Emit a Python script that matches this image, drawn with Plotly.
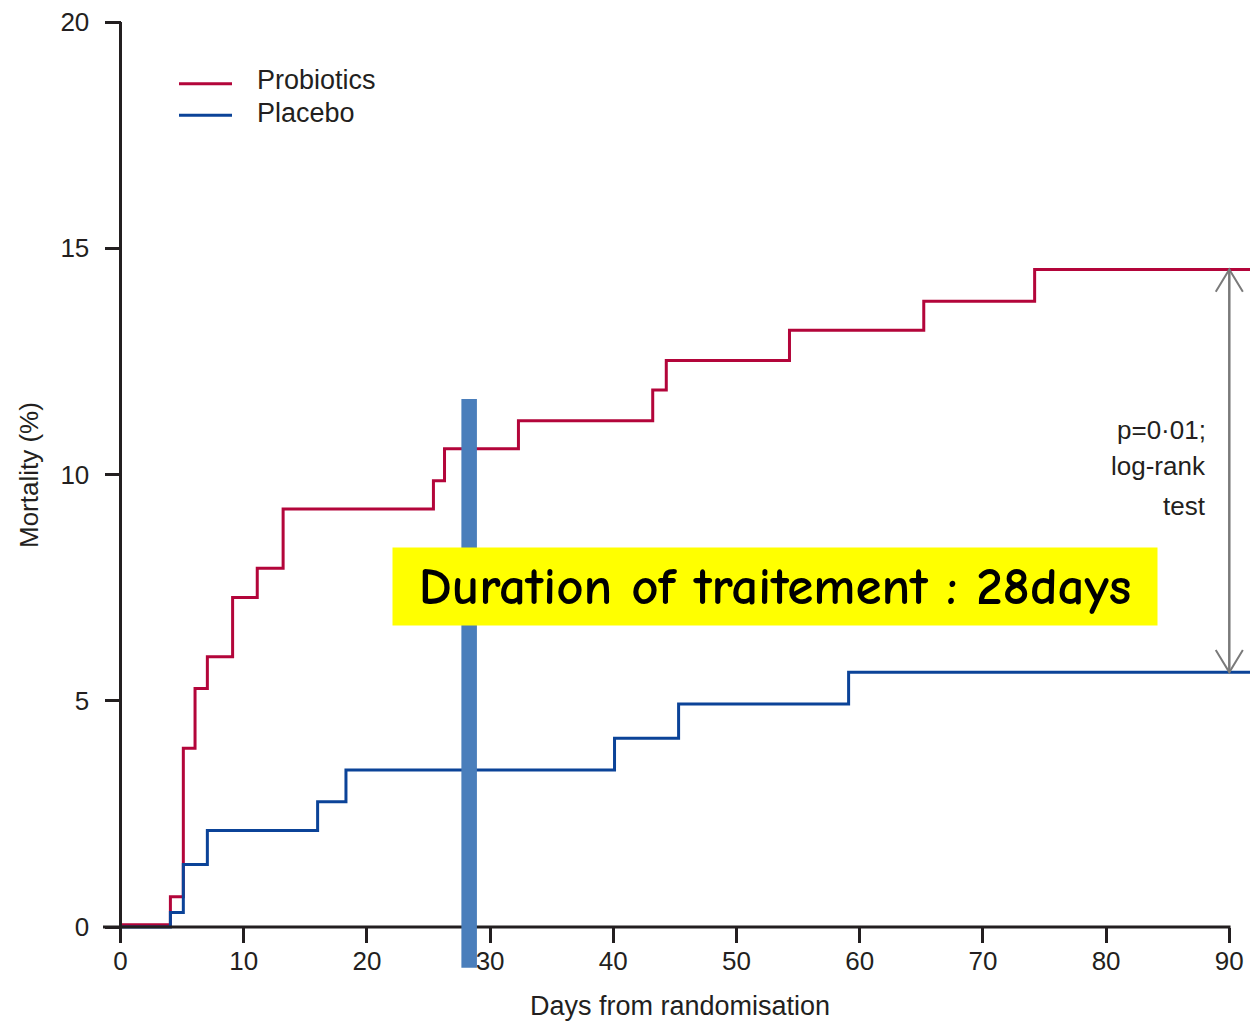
import plotly.graph_objects as go

# ---------------- data ----------------
prob_days = [0, 4.05, 5.1, 6.05, 7.05, 9.1, 11.1, 13.2, 25.4, 26.3, 32.3, 43.2, 44.3, 54.3, 65.2, 74.2, 92]
prob_mort = [0.05, 0.67, 3.95, 5.27, 5.97, 7.28, 7.93, 9.24, 9.86, 10.57, 11.19, 11.87, 12.52, 13.19, 13.83, 14.53, 14.53]

plac_days = [0, 4.05, 5.1, 7.05, 16.0, 18.3, 40.1, 45.3, 59.1, 92]
plac_mort = [0, 0.32, 1.38, 2.13, 2.77, 3.47, 4.17, 4.93, 5.63, 5.63]

x_ticks = [0, 10, 20, 30, 40, 50, 60, 70, 80, 90]
y_ticks = [0, 5, 10, 15, 20]

series_names = ["Probiotics", "Placebo"]
series_colors = ["#b3053a", "#0b4398"]

treatment_label = "Duration of traitement : 28days"
treatment_bar_day = 28.3
treatment_bar_top = 11.67
treatment_bar_bottom = -0.9

pvalue_lines = ["p=0\u00b701;", "log-rank", "test"]

# ---------------- geometry (pixels) ----------------
W, H = 1250, 1021
L, R, T, B = 100, 1250, 10, 975          # plot area in pixels
x0px, kx = 120.5, 12.32                  # pixel of day 0, pixels per day
y0px, ky = 927.0, 45.25                  # pixel of 0 %, pixels per %

xr = [(L - x0px) / kx, (R - x0px) / kx]
yr = [(y0px - B) / ky, (y0px - T) / ky]


def dx(px):
    return (px - x0px) / kx


def dy(py):
    return (y0px - py) / ky


FONT = "Liberation Sans, Arial, sans-serif"
TXT = "#231f20"
AX = "#231f20"

fig = go.Figure()
fig.add_trace(go.Scatter(x=prob_days, y=prob_mort, mode="lines", line_shape="hv",
                         line=dict(color=series_colors[0], width=3),
                         name=series_names[0], showlegend=False))
fig.add_trace(go.Scatter(x=plac_days, y=plac_mort, mode="lines", line_shape="hv",
                         line=dict(color=series_colors[1], width=3),
                         name=series_names[1], showlegend=False))

shapes = []
# axis lines
shapes.append(dict(type="line", xref="x", yref="y", x0=dx(103), x1=x_ticks[-1] + 0.1, y0=0, y1=0,
                   line=dict(color=AX, width=3), layer="above"))
shapes.append(dict(type="line", xref="x", yref="y", x0=0, x1=0, y0=-0.07, y1=y_ticks[-1],
                   line=dict(color=AX, width=3), layer="above"))
# treatment bar
shapes.append(dict(type="rect", xref="x", yref="y",
                   x0=treatment_bar_day - 0.63, x1=treatment_bar_day + 0.63,
                   y0=treatment_bar_bottom, y1=treatment_bar_top,
                   fillcolor="#4a7ebb", line=dict(width=0), layer="above"))
# double-headed arrow between final values
top_v = prob_mort[-1]
bot_v = plac_mort[-1]
ax_x = x_ticks[-1]
hw, hh = 1.1, 0.49
gray = "#7a7a7a"
shapes.append(dict(type="line", xref="x", yref="y", x0=ax_x, x1=ax_x, y0=bot_v, y1=top_v,
                   line=dict(color=gray, width=2.5), layer="above"))
shapes.append(dict(type="path", xref="x", yref="y",
                   path=f"M {ax_x - hw},{top_v - hh} L {ax_x},{top_v} L {ax_x + hw},{top_v - hh}",
                   line=dict(color=gray, width=2), layer="above"))
shapes.append(dict(type="path", xref="x", yref="y",
                   path=f"M {ax_x - hw},{bot_v + hh} L {ax_x},{bot_v} L {ax_x + hw},{bot_v + hh}",
                   line=dict(color=gray, width=2), layer="above"))
# legend lines
leg_line_y = [dy(83.7), dy(115.3)]
leg_text_y = [dy(80.0), dy(113.0)]
for c, yy in zip(series_colors, leg_line_y):
    shapes.append(dict(type="line", xref="x", yref="y", x0=dx(179), x1=dx(232), y0=yy, y1=yy,
                       line=dict(color=c, width=3), layer="above"))

annotations = []
for n, yy in zip(series_names, leg_text_y):
    annotations.append(dict(xref="x", yref="y", x=dx(255), y=yy, text=n, showarrow=False,
                            xanchor="left", yanchor="middle",
                            font=dict(family=FONT, size=27, color=TXT)))
for t, py in zip(pvalue_lines, [430.0, 465.5, 506.0]):
    annotations.append(dict(xref="x", yref="y", x=dx(1208), y=dy(py), text=t, showarrow=False,
                            xanchor="right", yanchor="middle",
                            font=dict(family=FONT, size=26, color=TXT)))
# yellow box
annotations.append(dict(xref="x", yref="y", x=dx(775), y=dy(586.5), text=treatment_label,
                        showarrow=False, xanchor="center", yanchor="middle",
                        width=764, height=77, bgcolor="#ffff00", borderpad=0,
                        font=dict(family="Comic Sans MS, Comic Neue, DejaVu Sans, sans-serif",
                                  size=53, color="#000000", weight="bold")))
# axis titles
annotations.append(dict(xref="x", yref="paper", x=dx(680), y=(B - 1006) / (B - T),
                        text="Days from randomisation", showarrow=False,
                        xanchor="center", yanchor="middle",
                        font=dict(family=FONT, size=27, color=TXT)))
annotations.append(dict(xref="paper", yref="y", x=(29 - L) / (R - L), y=dy(475),
                        text="Mortality (%)", showarrow=False, textangle=-90,
                        xanchor="center", yanchor="middle",
                        font=dict(family=FONT, size=26, color=TXT)))

fig.update_layout(
    width=W, height=H,
    margin=dict(l=L, r=W - R, t=T, b=H - B, pad=0),
    paper_bgcolor="white", plot_bgcolor="white",
    shapes=shapes, annotations=annotations,
    xaxis=dict(range=xr, tickvals=x_ticks, ticktext=[str(v) for v in x_ticks],
               showgrid=False, zeroline=False, showline=False,
               anchor="free", position=(B - y0px) / (B - T),
               ticks="outside", ticklen=15, tickwidth=3, tickcolor=AX,
               tickfont=dict(family=FONT, size=26, color=TXT), ticklabelstandoff=-4),
    yaxis=dict(range=yr, tickvals=y_ticks, ticktext=[str(v) for v in y_ticks],
               showgrid=False, zeroline=False, showline=False,
               anchor="free", position=(x0px - L) / (R - L),
               ticks="outside", ticklen=16, tickwidth=3, tickcolor=AX,
               tickfont=dict(family=FONT, size=26, color=TXT), ticklabelstandoff=10),
    showlegend=False,
)

fig.write_html("out.html")
